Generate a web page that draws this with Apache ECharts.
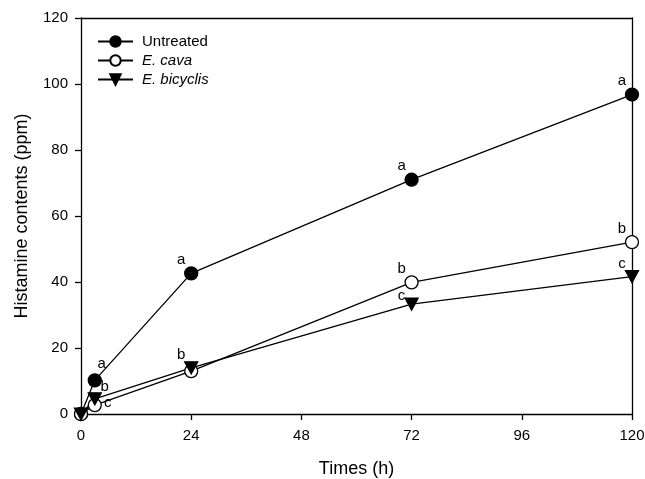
<!DOCTYPE html>
<html>
<head>
<meta charset="utf-8">
<script src="https://cdn.jsdelivr.net/npm/echarts@6/dist/echarts.min.js"></script>
<style>html,body{margin:0;padding:0;background:#fff}#c{width:645px;height:479px}</style>
</head>
<body>
<div id="c"></div>
<script>
const times = [0, 3, 24, 72, 120];
const untreated = [0, 10.2, 42.6, 71.0, 96.8];
const eCava = [0, 2.7, 13.0, 39.9, 52.1];
const eBicyclis = [0, 4.6, 14.0, 33.3, 41.6];
const untreatedLetters = ['', 'a', 'a', 'a', 'a'];
const eCavaLetters = ['', 'c', '', 'b', 'b'];
const eBicyclisLetters = ['', 'b', 'b', 'c', 'c'];
const xTicks = [0, 24, 48, 72, 96, 120];
const yTicks = [0, 20, 40, 60, 80, 100, 120];
const seriesNames = ['Untreated', 'E. cava', 'E. bicyclis'];

const FONT = 'Liberation Sans, Arial, sans-serif';
// label placement styles
const upLeft = {position: 'top', offset: [-10, 6]};
const upLeftLow = {position: 'top', offset: [-10, 11]};
const untreatedPos = i => i === 1 ? {position: 'top', offset: [7, 3]} : upLeft;
const cavaPos = i => i === 1 ? {position: 'right', offset: [-3, -2]} : upLeft;
const bicyclisPos = i => i === 1 ? {position: 'top', offset: [10, 7]} : (i === 3 ? upLeftLow : upLeft);

function build(vals, letters, posFn) {
  return vals.map((v, i) => {
    const lab = letters[i];
    const item = {value: [times[i], v]};
    if (lab) {
      item.label = Object.assign({show: true, formatter: lab, color: '#000', fontSize: 15, fontFamily: FONT}, posFn(i));
    }
    return item;
  });
}

const chart = echarts.init(document.getElementById('c'), null, {renderer: 'canvas'});
const common = {
  type: 'line',
  lineStyle: {color: '#000', width: 1.3},
  itemStyle: {color: '#000', borderColor: '#000', borderWidth: 1.3},
  emphasis: {disabled: true},
  animation: false,
  z: 3
};
const frameAxis = {
  type: 'value', min: 0, max: 120,
  axisLine: {show: true, onZero: false, lineStyle: {color: '#000', width: 1.3}},
  axisTick: {show: false}, axisLabel: {show: false}, splitLine: {show: false}
};
chart.setOption({
  animation: false,
  textStyle: {fontFamily: FONT},
  grid: {left: 81, right: 13, top: 18, bottom: 65, containLabel: false, outerBoundsMode: 'none'},
  legend: {
    left: 97, top: 34, padding: 0, orient: 'vertical', itemGap: 4, itemWidth: 35, itemHeight: 13,
    textStyle: {fontSize: 15, color: '#000', fontFamily: FONT, padding: [0, 0, 0, 4],
      rich: {i: {fontStyle: 'italic', fontSize: 15, fontFamily: FONT, color: '#000'}}},
    formatter: function (n) { return n.indexOf('E.') === 0 ? '{i|' + n + '}' : n; },
    data: seriesNames
  },
  xAxis: [{
    type: 'value', min: 0, max: 120, interval: 24,
    name: 'Times (h)', nameLocation: 'middle', nameGap: 46,
    nameTextStyle: {fontSize: 18, color: '#000', fontFamily: FONT},
    axisLine: {show: true, onZero: false, lineStyle: {color: '#000', width: 1.3}},
    axisTick: {show: true, inside: false, length: 6, lineStyle: {color: '#000', width: 1.3}},
    axisLabel: {fontSize: 15, color: '#000', margin: 14, fontFamily: FONT,
      formatter: v => xTicks.includes(v) ? String(v) : ''},
    splitLine: {show: false}
  }, Object.assign({}, frameAxis, {position: 'top', interval: 24})],
  yAxis: [{
    type: 'value', min: 0, max: 120, interval: 20,
    name: 'Histamine contents (ppm)', nameLocation: 'middle', nameGap: 50, nameRotate: 90,
    nameTextStyle: {fontSize: 18, color: '#000', fontFamily: FONT},
    axisLine: {show: true, onZero: false, lineStyle: {color: '#000', width: 1.3}},
    axisTick: {show: true, inside: false, length: 6, lineStyle: {color: '#000', width: 1.3}},
    axisLabel: {fontSize: 15, color: '#000', margin: 13, fontFamily: FONT,
      formatter: v => yTicks.includes(v) ? String(v) : ''},
    splitLine: {show: false}
  }, Object.assign({}, frameAxis, {position: 'right', interval: 20})],
  series: [
    Object.assign({}, common, {
      name: seriesNames[0], symbol: 'circle', symbolSize: 13,
      data: build(untreated, untreatedLetters, untreatedPos)
    }),
    Object.assign({}, common, {
      name: seriesNames[1], symbol: 'circle', symbolSize: 13,
      itemStyle: {color: '#fff', borderColor: '#000', borderWidth: 1.3},
      data: build(eCava, eCavaLetters, cavaPos)
    }),
    Object.assign({}, common, {
      name: seriesNames[2], symbol: 'triangle', symbolRotate: 180, symbolSize: [13, 12],
      data: build(eBicyclis, eBicyclisLetters, bicyclisPos)
    })
  ]
});
</script>
</body>
</html>
